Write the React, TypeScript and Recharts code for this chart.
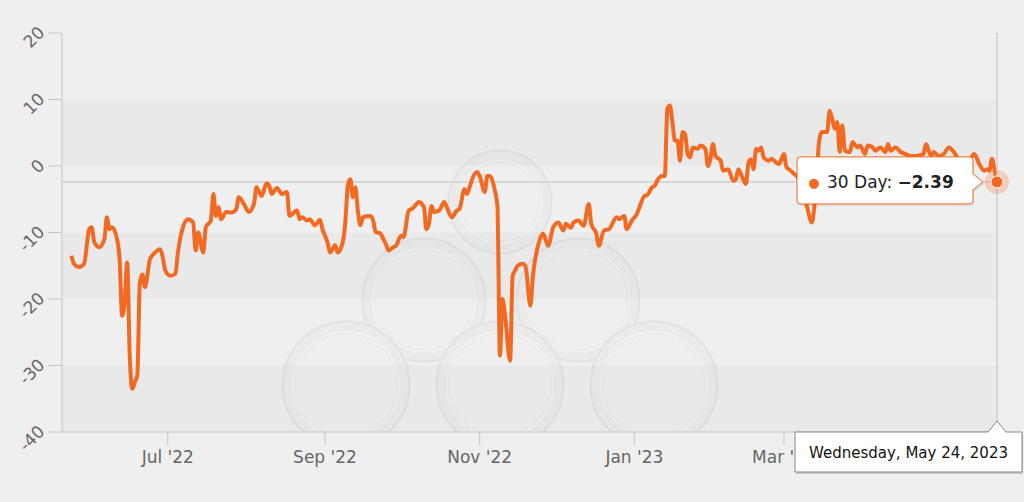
import React from 'react';
import { LineChart, Line, XAxis, YAxis, ReferenceArea, ReferenceLine, ReferenceDot } from 'recharts';

// 30-day series, one date per value
const DATES = [
  '2022-05-24', '2022-05-25', '2022-05-27', '2022-05-29', '2022-05-31',
  '2022-06-01', '2022-06-02', '2022-06-04', '2022-06-06', '2022-06-07', '2022-06-08', '2022-06-09', '2022-06-11', '2022-06-12', '2022-06-13', '2022-06-14', '2022-06-15', '2022-06-16', '2022-06-17', '2022-06-18', '2022-06-19', '2022-06-20', '2022-06-21', '2022-06-22', '2022-06-24', '2022-06-26', '2022-06-28', '2022-06-29', '2022-06-30',
  '2022-07-02', '2022-07-04', '2022-07-05', '2022-07-07', '2022-07-09', '2022-07-11', '2022-07-12', '2022-07-13', '2022-07-15', '2022-07-16', '2022-07-18', '2022-07-19', '2022-07-20', '2022-07-21', '2022-07-22', '2022-07-24', '2022-07-26', '2022-07-28', '2022-07-29', '2022-07-31',
  '2022-08-02', '2022-08-04', '2022-08-05', '2022-08-07', '2022-08-09', '2022-08-10', '2022-08-11', '2022-08-13', '2022-08-15', '2022-08-17', '2022-08-18', '2022-08-21', '2022-08-22', '2022-08-23', '2022-08-25', '2022-08-26', '2022-08-28', '2022-08-30', '2022-08-31',
  '2022-09-02', '2022-09-03', '2022-09-05', '2022-09-06', '2022-09-08', '2022-09-09', '2022-09-10', '2022-09-11', '2022-09-12', '2022-09-13', '2022-09-14', '2022-09-15', '2022-09-16', '2022-09-19', '2022-09-20', '2022-09-21', '2022-09-23', '2022-09-24', '2022-09-25', '2022-09-26', '2022-09-28', '2022-09-29',
  '2022-10-01', '2022-10-02', '2022-10-04', '2022-10-05', '2022-10-06', '2022-10-08', '2022-10-10', '2022-10-11', '2022-10-12', '2022-10-13', '2022-10-14', '2022-10-16', '2022-10-18', '2022-10-19', '2022-10-21', '2022-10-23', '2022-10-24', '2022-10-26', '2022-10-27', '2022-10-28', '2022-10-29', '2022-10-31',
  '2022-11-01', '2022-11-03', '2022-11-04', '2022-11-05', '2022-11-07', '2022-11-08', '2022-11-09', '2022-11-10', '2022-11-11', '2022-11-13', '2022-11-14', '2022-11-15', '2022-11-16', '2022-11-18', '2022-11-19', '2022-11-21', '2022-11-22', '2022-11-24', '2022-11-26', '2022-11-28', '2022-11-30',
  '2022-12-02', '2022-12-04', '2022-12-05', '2022-12-07', '2022-12-08', '2022-12-10', '2022-12-12', '2022-12-14', '2022-12-15', '2022-12-17', '2022-12-18', '2022-12-20', '2022-12-22', '2022-12-25', '2022-12-26', '2022-12-28', '2022-12-29', '2022-12-31',
  '2023-01-02', '2023-01-03', '2023-01-05', '2023-01-06', '2023-01-08', '2023-01-09', '2023-01-10', '2023-01-12', '2023-01-13', '2023-01-14', '2023-01-15', '2023-01-16', '2023-01-17', '2023-01-18', '2023-01-19', '2023-01-20', '2023-01-21', '2023-01-22', '2023-01-23', '2023-01-24', '2023-01-26', '2023-01-27', '2023-01-29', '2023-01-30', '2023-01-31',
  '2023-02-01', '2023-02-02', '2023-02-04', '2023-02-05', '2023-02-07', '2023-02-09', '2023-02-10', '2023-02-11', '2023-02-12', '2023-02-14', '2023-02-15', '2023-02-16', '2023-02-17', '2023-02-18', '2023-02-19', '2023-02-20', '2023-02-21', '2023-02-23', '2023-02-24', '2023-02-26', '2023-02-27',
  '2023-03-01', '2023-03-02', '2023-03-03', '2023-03-05', '2023-03-06', '2023-03-08', '2023-03-10', '2023-03-12', '2023-03-13', '2023-03-15', '2023-03-16', '2023-03-18', '2023-03-19', '2023-03-20', '2023-03-21', '2023-03-22', '2023-03-23', '2023-03-24', '2023-03-25', '2023-03-27', '2023-03-28', '2023-03-30', '2023-03-31',
  '2023-04-02', '2023-04-03', '2023-04-05', '2023-04-06', '2023-04-08', '2023-04-10', '2023-04-11', '2023-04-12', '2023-04-14', '2023-04-16', '2023-04-18', '2023-04-20', '2023-04-22', '2023-04-25', '2023-04-26', '2023-04-28', '2023-04-29', '2023-04-30',
  '2023-05-01', '2023-05-03', '2023-05-05', '2023-05-07', '2023-05-08', '2023-05-10', '2023-05-13', '2023-05-15', '2023-05-17', '2023-05-19', '2023-05-20', '2023-05-21', '2023-05-22', '2023-05-23', '2023-05-24',
];

const VALUES = [
  -13.5, -14.7, -15.2, -14.7, -9.5,
  -9.2, -11.4, -12.2, -11, -7.7, -9.5, -9.2, -11, -14, -22.5, -20.5, -14.5, -28.5, -33.5, -32.5, -31.5, -17.5, -16.3, -18.2, -14, -13, -12.5, -13.7, -15.7,
  -16.5, -16.2, -13, -9.2, -8, -8.5, -12.7, -10, -13, -9.2, -8.2, -4.2, -7.5, -6.2, -8, -6.9, -7, -6.5, -4.7, -5.7,
  -6.9, -5.7, -3.2, -4.5, -2.6, -3, -4.2, -3.3, -4.2, -3.9, -7.5, -6.7, -8, -7.7, -8.2, -8, -8.9, -8.1, -9.5,
  -11.5, -13, -11.9, -13, -11.5, -8.5, -3, -2, -4.7, -3.2, -6.9, -8.9, -7.7, -7.5, -8.2, -9.9, -10.2, -11, -11.7, -12.7, -12.2, -12,
  -10.5, -10.7, -6.7, -6.5, -6.2, -5.4, -6.2, -9.5, -8.7, -6, -6.9, -6.7, -5.4, -6.2, -7.7, -6.7, -6.5, -3.5, -4.2, -3.2, -2, -0.9,
  -1.5, -3.9, -1.5, -1.5, -3.7, -6, -28.5, -20, -22.5, -29.3, -16.5, -15.7, -15, -14.7, -15, -21, -16.5, -12, -10.2, -12, -9.2,
  -8.5, -9.7, -8.7, -9.3, -8.5, -8.2, -9, -5.7, -8.7, -10.2, -12, -9.7, -9.5, -7.7, -8, -7.5, -9.5, -8.2,
  -7.2, -6.2, -4.5, -4.4, -3.2, -3, -2.2, -1.5, -1.5, 8.6, 9.1, 6.6, 3.8, 3.8, 0.8, 5.1, 4.8, 1.8, 1.3, 2.8, 2.6, 3.1, 2.6, 0, 1.1,
  3.3, 1.5, 0.8, -0.7, -0.5, -2.2, -2, -0.5, -1.2, -2.7, 0.5, 1, -0.5, 2.6, 2.3, 2.8, 1.3, 0.8, 1.1, 0.5, 0.3,
  1.8, -0.2, -0.5, -1.2, -1.5, -3, -6, -8.5, -6, 4.1, 5.1, 5.1, 8.3, 7.1, 5.6, 6.6, 2.1, 6.1, 2.3, 2.1, 3.6, 2.8, 3.1,
  1.8, 3.1, 2.8, 2.3, 2.8, 2.1, 3.3, 2.3, 2.8, 2.1, 1.8, 1.5, 1.5, 1.8, 3.3, 1.5, 2.1, 1.8,
  1.5, 1.8, 2.8, 2.1, 1.5, 0.5, 0.8, 1.8, 0.3, -0.7, -0.5, -0.7, 1.1, -0.5, -2.39,
];

// May '23 tick sits under the date tooltip in the source, so it is left out
const TICK_DATES = ['2022-07-01', '2022-09-01', '2022-11-01', '2023-01-01', '2023-03-01'];
const TICK_LABELS = ["Jul '22", "Sep '22", "Nov '22", "Jan '23", "Mar '23"];
const Y_TICKS = [-40, -30, -20, -10, 0, 10, 20];
const BANDS = [[0, 10], [-20, -10], [-40, -30]];
const SERIES_NAME = '30 Day';

const ORANGE = '#f26a21';
const AXIS_GRAY = '#c4c4c4';
const FONT = '"DejaVu Sans", "Lucida Grande", sans-serif';
const MARGIN = { top: 33, right: 27, bottom: 40, left: 0 };

const toTs = (d: string) => Date.parse(d + 'T00:00:00Z');
const data = DATES.map((d, i) => ({ t: toTs(d), v: VALUES[i] }));
const tickTs = TICK_DATES.map(toTs);
const last = data[data.length - 1];
const xDomain = [toTs('2022-05-20') + 7 * 3600 * 1000, last.t];

const tickLabel = (ts: number) => TICK_LABELS[tickTs.indexOf(ts)] ?? '';

const dateText = new Date(last.t).toLocaleDateString('en-US', {
  weekday: 'long', month: 'long', day: 'numeric', year: 'numeric', timeZone: 'UTC',
});
const valueText = last.v.toFixed(2).replace('-', '\u2212');

// background logo rings
const RINGS = [
  { cx: 500, cy: 202, r: 46 },
  { cx: 424, cy: 300, r: 56 },
  { cx: 578, cy: 300, r: 56 },
  { cx: 346, cy: 385, r: 58 },
  { cx: 500, cy: 385, r: 58 },
  { cx: 654, cy: 385, r: 58 },
];

function Watermark() {
  return (
    <svg width={1024} height={502} style={{ position: 'absolute', left: 0, top: 0 }}>
      <defs>
        <clipPath id="plotClip">
          <rect x={62} y={33} width={935} height={399} />
        </clipPath>
      </defs>
      <g clipPath="url(#plotClip)">
        {RINGS.map((r, i) => (
          <g key={i}>
            <circle cx={r.cx} cy={r.cy} r={r.r} fill="none" stroke="#e2e2e2" strokeWidth={13} />
            <circle cx={r.cx} cy={r.cy} r={r.r} fill="none" stroke="#ebebeb" strokeWidth={9} />
            <circle cx={r.cx} cy={r.cy} r={r.r - 5} fill="none" stroke="#f6f6f6" strokeWidth={1.5} />
          </g>
        ))}
      </g>
    </svg>
  );
}

function YTick({ x, y, payload }: any) {
  return (
    <g transform={`translate(${x - 1},${y})`}>
      <text transform="rotate(-45)" textAnchor="end" dy={1} fill="#666" fontSize={17} fontFamily={FONT}>
        {payload.value}
      </text>
    </g>
  );
}

function PointTooltip({ cx, cy }: any) {
  if (cx == null || cy == null) return null;
  const l = cx - 200;
  const r = cx - 24;
  const t = cy - 25;
  const b = cy + 22;
  const tip = cx - 14;
  const path = `M${l + 3},${t} L${r - 3},${t} Q${r},${t} ${r},${t + 3} L${r},${cy - 8} L${tip},${cy} L${r},${cy + 8} L${r},${b - 3} Q${r},${b} ${r - 3},${b} L${l + 3},${b} Q${l},${b} ${l},${b - 3} L${l},${t + 3} Q${l},${t} ${l + 3},${t} Z`;
  return (
    <g>
      <circle cx={cx} cy={cy} r={12} fill={ORANGE} fillOpacity={0.25} />
      <circle cx={cx} cy={cy} r={6} fill={ORANGE} stroke="#fff" strokeWidth={1} />
      <path d={path} transform="translate(1,2)" fill="#000" fillOpacity={0.08} />
      <path d={path} fill="#fff" stroke={ORANGE} strokeWidth={1} />
      <text x={l + 17} y={cy + 5} fill={ORANGE} fontSize={13} fontFamily={FONT} textAnchor="middle">●</text>
      <text x={l + 30} y={cy + 6} fill="#222" fontSize={17} fontFamily={FONT}>
        {SERIES_NAME}: <tspan fontWeight="bold">{valueText}</tspan>
      </text>
    </g>
  );
}

function DateTooltip({ viewBox }: any) {
  if (!viewBox) return null;
  const x = viewBox.x;
  const top = viewBox.y + viewBox.height;
  const l = x - 202;
  const r = x + 25;
  const b = top + 40;
  const path = `M${l},${top} L${x - 9},${top} L${x},${top - 11} L${x + 9},${top} L${r},${top} L${r},${b} L${l},${b} Z`;
  return (
    <g>
      <path d={path} transform="translate(1,2)" fill="#000" fillOpacity={0.15} />
      <path d={path} fill="#fff" stroke="#888" strokeWidth={1} />
      <text x={(l + r) / 2} y={top + 26} textAnchor="middle" fill="#111" fontSize={15} fontFamily={FONT}>
        {dateText}
      </text>
    </g>
  );
}

export default function App() {
  return (
    <div style={{ position: 'absolute', left: 0, top: 0, width: 1024, height: 502, background: '#efefef', overflow: 'hidden' }}>
      <Watermark />
      <div style={{ position: 'absolute', left: 0, top: 0 }}>
        <LineChart width={1024} height={502} data={data} margin={MARGIN}>
          <XAxis
            dataKey="t"
            type="number"
            scale="time"
            domain={xDomain}
            ticks={tickTs}
            tickFormatter={tickLabel}
            allowDataOverflow
            height={30}
            stroke={AXIS_GRAY}
            tickSize={13}
            tickMargin={6}
            tick={{ fill: '#666', fontSize: 17, fontFamily: FONT }}
          />
          <YAxis
            domain={[-40, 20]}
            ticks={Y_TICKS}
            width={62}
            stroke={AXIS_GRAY}
            tickSize={14}
            tickMargin={2}
            tick={<YTick />}
            allowDataOverflow
          />
          {BANDS.map(([lo, hi]) => (
            <ReferenceArea key={lo} y1={lo} y2={hi} fill="#000" fillOpacity={0.025} stroke="none" />
          ))}
          <ReferenceLine y={last.v} stroke="#cfcfcf" strokeWidth={1.5} />
          <Line
            type="monotone"
            dataKey="v"
            stroke={ORANGE}
            strokeWidth={4}
            dot={false}
            activeDot={false}
            isAnimationActive={false}
          />
        </LineChart>
      </div>
      {/* hover layer: same scales, drawn over the axes */}
      <div style={{ position: 'absolute', left: 0, top: 0 }}>
        <LineChart width={1024} height={502} data={data} margin={{ ...MARGIN, left: 62, bottom: 70 }}>
          <XAxis dataKey="t" type="number" scale="time" domain={xDomain} allowDataOverflow hide />
          <YAxis domain={[-40, 20]} allowDataOverflow hide />
          <Line dataKey="v" stroke="none" dot={false} activeDot={false} isAnimationActive={false} />
          <ReferenceLine x={last.t} stroke="#cfcfcf" strokeWidth={1.5} label={<DateTooltip />} />
          <ReferenceDot x={last.t} y={last.v} shape={<PointTooltip />} />
        </LineChart>
      </div>
    </div>
  );
}
